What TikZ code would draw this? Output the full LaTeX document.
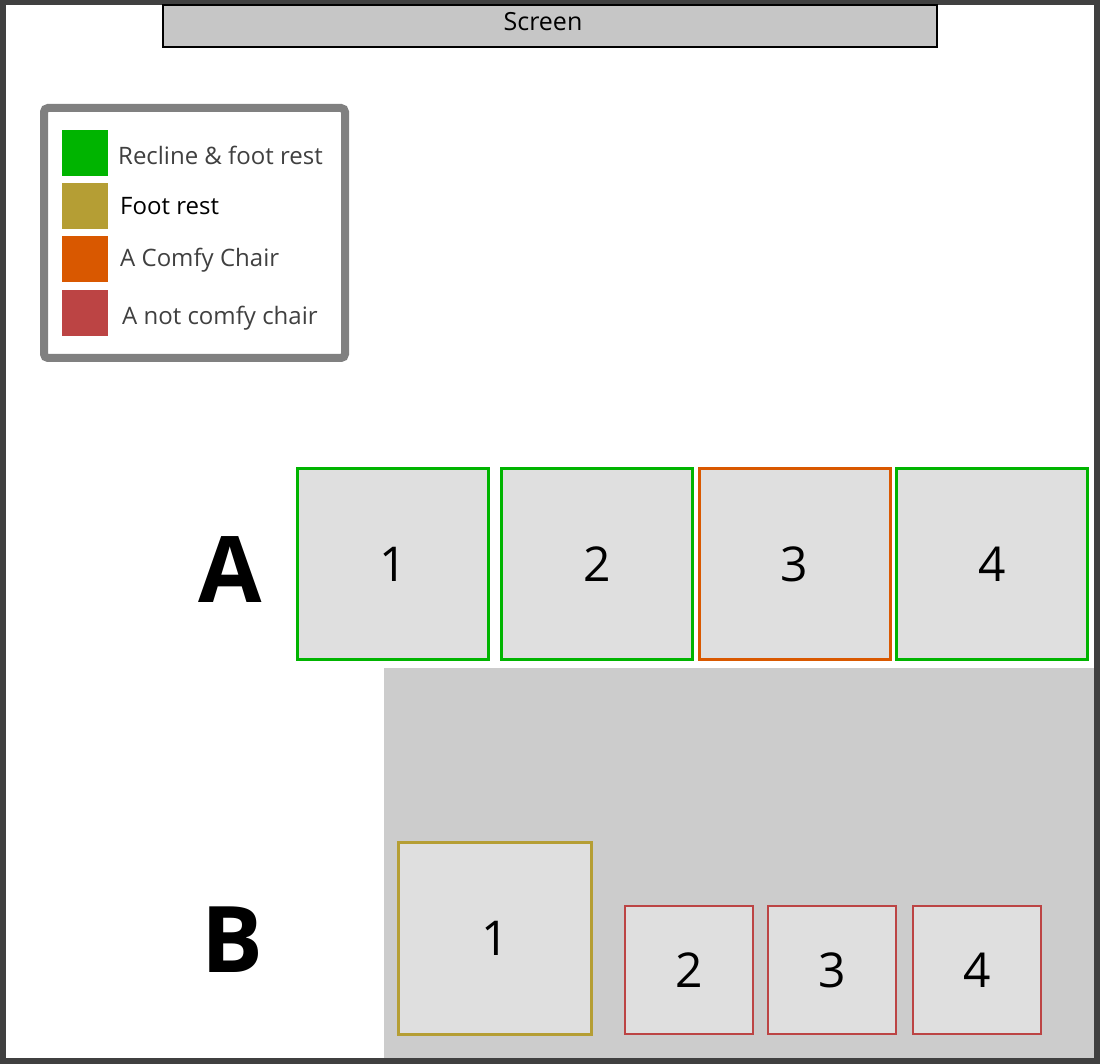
\documentclass[tikz,border=0pt]{standalone}
\usepackage{fontspec}
\setmainfont{Open Sans}
\begin{document}
\begin{tikzpicture}[x=1pt,y=-1pt,
  seatA/.style={draw=#1,line width=3pt,fill=seatfill,inner sep=0pt,minimum width=191pt,minimum height=191pt,font=\fontsize{48}{48}\selectfont},
  seatB/.style={draw=#1,line width=2pt,fill=seatfill,inner sep=0pt,minimum width=128pt,minimum height=128pt,font=\fontsize{48}{48}\selectfont},
  swatch/.style={fill=#1,draw=none,minimum width=46pt,minimum height=46pt,inner sep=0pt},
  legtext/.style={anchor=west,text=legtxt,font=\fontsize{24}{24}\selectfont,inner sep=0pt},
  rowlabel/.style={font=\fontsize{92}{92}\selectfont\bfseries}]
\definecolor{frame}{HTML}{404040}
\definecolor{seatfill}{HTML}{DFDFDF}
\definecolor{screenfill}{HTML}{C6C6C6}
\definecolor{area}{HTML}{CCCCCC}
\definecolor{cgreen}{HTML}{00B400}
\definecolor{colive}{HTML}{B59E34}
\definecolor{corange}{HTML}{D95800}
\definecolor{cred}{HTML}{BC4444}
\definecolor{legtxt}{HTML}{404040}
\definecolor{legframe}{HTML}{808080}
\useasboundingbox (0,0) rectangle (1100,1064);
\fill[frame] (0,0) rectangle (1100,1064);
\fill[white] (6,5) rectangle (1094,1058);
\fill[area] (384,668) rectangle (1094,1058);
% screen
\node[draw=black,line width=1.5pt,fill=screenfill,minimum width=774pt,minimum height=42pt,inner sep=0pt] (screen) at (550,26) {};
\node (screentext) at (543,22) {\fontsize{25}{25}\selectfont Screen};
% legend
\node[draw=legframe,line width=8pt,rounded corners=4pt,fill=white,minimum width=301pt,minimum height=250pt,inner sep=0pt] (legend) at (194.5,233) {};
\node[swatch=cgreen] (s1) at (85,153) {};
\node[swatch=colive] (s2) at (85,206) {};
\node[swatch=corange] (s3) at (85,259) {};
\node[swatch=cred] (s4) at (85,313) {};
\node[legtext] (t1) at (118,155) {Recline \& foot rest};
\node[legtext,text=black] (t2) at (120,206) {Foot rest};
\node[legtext] (t3) at (120,260) {A Comfy Chair};
\node[legtext] (t4) at (122,318) {A not comfy chair};
% row A
\node[rowlabel] (A) at (230,570) {A};
\node[seatA=cgreen] (a1) at (393,564) {1};
\node[seatA=cgreen] (a2) at (597,564) {2};
\node[seatA=corange] (a3) at (794.5,564) {3};
\node[seatA=cgreen] (a4) at (992,564) {4};
% row B
\node[rowlabel] (B) at (232,940) {B};
\node[seatB=colive,line width=3pt,minimum width=193pt,minimum height=192pt] (b1) at (495,938.5) {1};
\node[seatB=cred] (b2) at (689,970) {2};
\node[seatB=cred] (b3) at (832,970) {3};
\node[seatB=cred] (b4) at (977,970) {4};
\end{tikzpicture}
\end{document}
